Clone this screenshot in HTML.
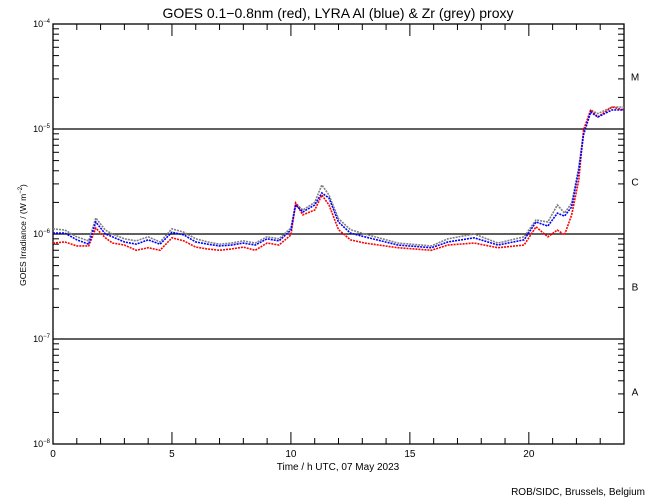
<!DOCTYPE html>
<html><head><meta charset="utf-8"><style>
html,body{margin:0;padding:0;background:#fff;}
svg{display:block;font-family:"Liberation Sans",sans-serif;}
</style></head><body>
<svg id="chart" width="650" height="500" viewBox="0 0 650 500">
<text x="338" y="18" font-size="14" text-anchor="middle">GOES 0.1−0.8nm (red), LYRA Al (blue) &amp; Zr (grey) proxy</text>
<text transform="translate(26,235) rotate(-90)" font-size="8.5" text-anchor="middle">GOES Irradiance / (W m<tspan dy="-4" font-size="6">−2</tspan><tspan dy="4">)</tspan></text>
<text x="338" y="470" font-size="10" text-anchor="middle">Time / h UTC, 07 May 2023</text>
<text x="645" y="495" font-size="10" text-anchor="end">ROB/SIDC, Brussels, Belgium</text>
<g id="axes"></g>
<g id="series"></g>
</svg>
<script>
const hours = [0,0.5,1,1.5,1.8,2.2,2.5,3,3.5,4,4.5,5,5.5,6,6.5,7,7.5,8,8.5,9,9.5,10,10.2,10.5,11,11.3,11.6,12,12.5,13.1,14.5,15.9,16.6,17.7,18.7,19.8,20.3,20.8,21.2,21.5,21.8,22.1,22.3,22.6,22.9,23.5,24];
const goesRed = [8.2e-7,8.4e-7,7.7e-7,7.7e-7,1.14e-6,9.2e-7,8.2e-7,7.85e-7,7.0e-7,7.4e-7,7.0e-7,9.2e-7,8.6e-7,7.5e-7,7.2e-7,7.0e-7,7.2e-7,7.5e-7,7.0e-7,8.2e-7,7.85e-7,9.8e-7,1.97e-6,1.52e-6,1.69e-6,2.35e-6,1.89e-6,1.1e-6,8.8e-7,8.2e-7,7.4e-7,7.0e-7,7.85e-7,8.2e-7,7.4e-7,7.85e-7,1.17e-6,9.4e-7,1.09e-6,9.8e-7,1.52e-6,3.27e-6,9.8e-6,1.52e-5,1.30e-5,1.62e-5,1.52e-5];
const lyraBlue = [1.02e-6,1.02e-6,8.8e-7,8.0e-7,1.30e-6,1.0e-6,9.4e-7,8.4e-7,8.0e-7,8.8e-7,8.0e-7,1.04e-6,9.8e-7,8.4e-7,8.0e-7,7.7e-7,7.85e-7,8.2e-7,7.85e-7,9.0e-7,8.6e-7,1.09e-6,1.89e-6,1.62e-6,1.89e-6,2.46e-6,2.2e-6,1.3e-6,1.02e-6,9.4e-7,7.85e-7,7.4e-7,8.4e-7,9.2e-7,7.85e-7,8.8e-7,1.30e-6,1.19e-6,1.58e-6,1.48e-6,1.81e-6,4.07e-6,8.8e-6,1.45e-5,1.30e-5,1.52e-5,1.52e-5];
const zrGrey = [1.12e-6,1.09e-6,9.4e-7,8.6e-7,1.42e-6,1.09e-6,1.0e-6,9.0e-7,8.6e-7,9.4e-7,8.4e-7,1.12e-6,1.04e-6,9.0e-7,8.4e-7,8.0e-7,8.2e-7,8.6e-7,8.2e-7,9.4e-7,9.0e-7,1.14e-6,1.97e-6,1.69e-6,2.0e-6,2.93e-6,2.35e-6,1.4e-6,1.1e-6,1.0e-6,8.2e-7,7.7e-7,9.0e-7,1.0e-6,8.2e-7,9.4e-7,1.36e-6,1.30e-6,1.89e-6,1.58e-6,1.97e-6,4.3e-6,9.4e-6,1.52e-5,1.40e-5,1.62e-5,1.62e-5];
const yTickExps = [-8,-7,-6,-5,-4];
const xTickLabels = [0,5,10,15,20];
const classLabels = ["A","B","C","M"];

const NS="http://www.w3.org/2000/svg";
const L=53,R=624,T=24,B=444;
const x=h=>L+(R-L)*h/24;
const y=v=>B-(Math.log10(v)+8)*(B-T)/4;
const axes=document.getElementById('axes'), ser=document.getElementById('series');
function mk(tag,attrs,parent){const e=document.createElementNS(NS,tag);for(const k in attrs)e.setAttribute(k,attrs[k]);parent.appendChild(e);return e;}

const frame=mk('rect',{x:L,y:T,width:R-L,height:B-T,fill:'none',stroke:'#000','stroke-width':1.3},axes);



for(let e=-8;e<-4;e++){
  for(let m=2;m<=9;m++){
    const yy=y(m*Math.pow(10,e));
    const t1=mk('line',{x1:L,x2:L+6,y1:yy,y2:yy,stroke:'#000'},axes);
    
    
    const t2=mk('line',{x1:R-6,x2:R,y1:yy,y2:yy,stroke:'#000'},axes);
    
    
  }
}
yTickExps.forEach(e=>{
  const yy=y(Math.pow(10,e));
  if(e>-8&&e<-4){
    const g=mk('line',{x1:L,x2:R,y1:yy,y2:yy,stroke:'#000','stroke-width':1.3},axes);
    
    
  }
  const t=mk('text',{x:L-3,y:yy+3,'font-size':9,'text-anchor':'end'},axes);
  
  
  t.innerHTML='10<tspan dy="-4" font-size="6">'+(e<0?'−'+(-e):e)+'</tspan>';
});
classLabels.forEach((c,i)=>{
  const t=mk('text',{x:635,y:y(Math.pow(10,-7.5+i))+4,'font-size':10,'text-anchor':'middle'},axes);
  
  
  t.textContent=c;
});
for(let h=1;h<24;h++){
  const len=h%5===0?12:6;
  const a=mk('line',{x1:x(h),x2:x(h),y1:B,y2:B-len,stroke:'#000'},axes);
  
  
  const b=mk('line',{x1:x(h),x2:x(h),y1:T,y2:T+len,stroke:'#000'},axes);
  
  
}
xTickLabels.forEach(h=>{
  const t=mk('text',{x:x(h),y:457,'font-size':10,'text-anchor':'middle'},axes);
  
  
  t.textContent=h;
});
function line(vals,color,name){
  const p=mk('polyline',{points:hours.map((h,i)=>x(h)+','+y(vals[i])).join(' '),fill:'none',stroke:color,'stroke-width':1.6,'stroke-dasharray':'2 1'},ser);
  
  
}
line(zrGrey,'#808080','zr-grey-series');
line(goesRed,'#ff0000','goes-red-series');
line(lyraBlue,'#0000ff','lyra-blue-series');
</script>
</body></html>
